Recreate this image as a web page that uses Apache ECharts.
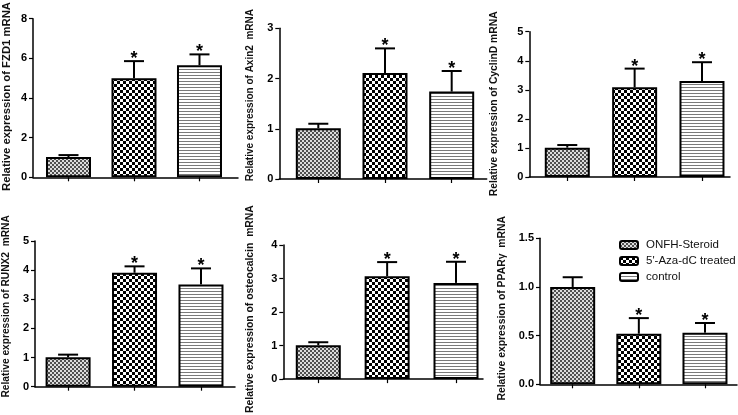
<!DOCTYPE html>
<html>
<head>
<meta charset="utf-8">
<script src="https://cdn.jsdelivr.net/npm/echarts@6/dist/echarts.min.js"></script>
<style>html,body{margin:0;padding:0;background:#fff}#c{width:738px;height:415px}</style>
</head>
<body>
<div id="c"></div>
<script>
// ---- data ----
const categories = ['ONFH-Steroid', "5'-Aza-dC treated", 'control'];
const genes = ['FZD1', 'Axin2', 'CyclinD', 'RUNX2', 'osteocalcin', 'PPARγ'];
const yTitles = [
  'Relative expression of FZD1 mRNA',
  'Relative expression of Axin2  mRNA',
  'Relative expression of CyclinD mRNA',
  'Relative expression of RUNX2  mRNA',
  'Relative expression of osteocalcin  mRNA',
  'Relative expression of PPARγ  mRNA'
];
const fzd1Mean = [1.02, 5.0, 5.65];
const fzd1Err = [0.10, 0.86, 0.55];
const axin2Mean = [1.01, 2.11, 1.74];
const axin2Err = [0.09, 0.49, 0.41];
const cyclinDMean = [1.01, 3.09, 3.3];
const cyclinDErr = [0.09, 0.64, 0.65];
const runx2Mean = [1.01, 3.91, 3.51];
const runx2Err = [0.09, 0.22, 0.55];
const osteocalcinMean = [1.01, 3.07, 2.87];
const osteocalcinErr = [0.09, 0.42, 0.63];
const ppargMean = [1.0, 0.52, 0.53];
const ppargErr = [0.10, 0.16, 0.10];
const significant = [false, true, true];
const yMax = [8, 3, 5, 5, 4, 1.5];
const yInterval = [2, 1, 1, 1, 1, 0.5];

const means = [fzd1Mean, axin2Mean, cyclinDMean, runx2Mean, osteocalcinMean, ppargMean];
const errs = [fzd1Err, axin2Err, cyclinDErr, runx2Err, osteocalcinErr, ppargErr];

// ---- layout (pixels) ----
const layout = [
  {left: 27, top: 18.7, width: 211, height: 158.6, xmin: -0.542, xmax: 2.588, gap: 21, fs: 11.3, shift: 3},
  {left: 279.3, top: 28.3, width: 207.4, height: 150.7, xmin: -0.585, xmax: 2.525, gap: 24, fs: 10, shift: 17},
  {left: 529.3, top: 31.7, width: 200.7, height: 145.3, xmin: -0.564, xmax: 2.416, gap: 30, fs: 10.3, shift: 1},
  {left: 29.3, top: 241, width: 205.7, height: 145.7, xmin: -0.498, xmax: 2.512, gap: 24, fs: 10.2, shift: 15},
  {left: 283.3, top: 245, width: 199.7, height: 138.3, xmin: -0.508, xmax: 2.392, gap: 28, fs: 10.4, shift: 6},
  {left: 540, top: 238.3, width: 197, height: 146, xmin: -0.494, xmax: 2.484, gap: 33, fs: 10.4, shift: 6}
];

// ---- patterns ----
function makePattern(kind) {
  const c = document.createElement('canvas');
  const ctx = c.getContext('2d');
  if (kind === 0) {
    c.width = 4; c.height = 4;
    ctx.fillStyle = '#dcdcdc'; ctx.fillRect(0, 0, 4, 4);
    ctx.fillStyle = '#505050';
    ctx.fillRect(0, 0, 2, 2); ctx.fillRect(2, 2, 2, 2);
  } else if (kind === 1) {
    c.width = 6; c.height = 6;
    ctx.fillStyle = '#ffffff'; ctx.fillRect(0, 0, 6, 6);
    ctx.fillStyle = '#000000';
    ctx.fillRect(0, 0, 3, 3); ctx.fillRect(3, 3, 3, 3);
  } else {
    c.width = 4; c.height = 3;
    ctx.fillStyle = '#ffffff'; ctx.fillRect(0, 0, 4, 3);
    ctx.fillStyle = '#7a7a7a'; ctx.fillRect(0, 0, 4, 1);
  }
  return {image: c, repeat: 'repeat'};
}
const patterns = [makePattern(0), makePattern(1), makePattern(2)];

const FONT = 'Liberation Sans, Arial, sans-serif';
const grids = [], xAxes = [], yAxes = [], series = [];

layout.forEach((L, p) => {
  grids.push({left: L.left, top: L.top, width: L.width, height: L.height, containLabel: false});
  xAxes.push({
    type: 'value', gridIndex: p, min: L.xmin, max: L.xmax,
    splitLine: {show: false},
    axisLine: {show: true, onZero: false, lineStyle: {color: '#000', width: 1.5}},
    axisTick: {show: true, customValues: [0, 1, 2], length: 4, inside: false, lineStyle: {color: '#000', width: 1.2}},
    axisLabel: {show: false}
  });
  yAxes.push({
    type: 'value', gridIndex: p, min: 0, max: yMax[p], interval: yInterval[p],
    name: yTitles[p], nameLocation: 'middle', nameGap: L.gap,
    nameTextStyle: {fontFamily: FONT, fontSize: L.fs, fontWeight: 'bold', color: '#111', padding: [0, 0, 0, L.shift]},
    splitLine: {show: false},
    axisLine: {show: true, onZero: false, lineStyle: {color: '#000', width: 1.5}},
    axisTick: {show: true, length: 4, lineStyle: {color: '#000', width: 1.2}},
    axisLabel: {
      fontFamily: FONT, fontSize: 11, fontWeight: 'bold', color: '#000', margin: 6,
      formatter: v => (p === 5 ? v.toFixed(1) : String(v))
    }
  });
  categories.forEach((cat, i) => {
    series.push({
      type: 'bar', name: cat, xAxisIndex: p, yAxisIndex: p,
      barWidth: 45, barGap: '-100%',
      data: [[i, means[p][i]]],
      itemStyle: {color: patterns[i], borderColor: '#000', borderWidth: 2},
      silent: true, animation: false, z: 2
    });
  });
  series.push({
    type: 'custom', xAxisIndex: p, yAxisIndex: p, z: 3, animation: false, silent: true,
    data: means[p].map((m, i) => [i, m, m + errs[p][i], significant[i] ? 1 : 0]),
    renderItem: function (params, api) {
      const x = api.value(0), m = api.value(1), u = api.value(2), s = api.value(3);
      const p0 = api.coord([x, m]);
      const p1 = api.coord([x, u]);
      const half = 10;
      const children = [
        {type: 'line', shape: {x1: p0[0], y1: p0[1], x2: p1[0], y2: p1[1]}, style: {stroke: '#000', lineWidth: 2}},
        {type: 'line', shape: {x1: p1[0] - half, y1: p1[1], x2: p1[0] + half, y2: p1[1]}, style: {stroke: '#000', lineWidth: 2}}
      ];
      if (s) {
        children.push({type: 'text', style: {text: '*', x: p1[0], y: p1[1] - 2, align: 'center', verticalAlign: 'middle', font: 'bold 18px ' + FONT, fill: '#000'}});
      }
      return {type: 'group', children: children};
    }
  });
});

const chart = echarts.init(document.getElementById('c'), null, {renderer: 'canvas'});
chart.setOption({
  backgroundColor: '#fff',
  animation: false,
  legend: {
    data: categories, orient: 'vertical', left: 614, top: 234,
    itemWidth: 18, itemHeight: 8, itemGap: 4,
    textStyle: {fontFamily: FONT, fontSize: 11.5, color: '#111', padding: [0, 0, 0, 3]},
    selectedMode: false
  },
  grid: grids, xAxis: xAxes, yAxis: yAxes, series: series
});
</script>
</body>
</html>
